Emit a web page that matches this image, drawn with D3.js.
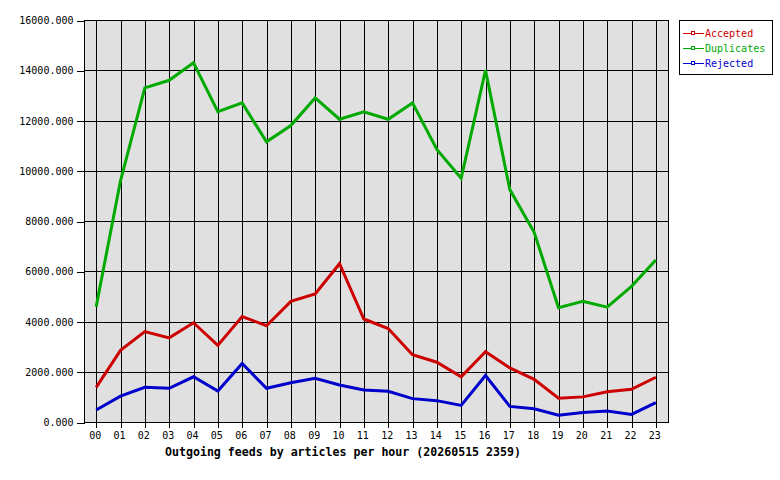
<!DOCTYPE html>
<html>
<head>
<meta charset="utf-8">
<script src="https://cdn.jsdelivr.net/npm/d3@7"></script>
<style>
  body { margin: 0; background: #fff; }
  text { font-family: "DejaVu Sans Mono", monospace; }
</style>
</head>
<body>
<div id="chart"></div>
<script>
// hours of the day
const hours = ["00","01","02","03","04","05","06","07","08","09","10","11",
               "12","13","14","15","16","17","18","19","20","21","22","23"];

const accepted   = [1380,2850,3600,3350,3950,3050,4200,3830,4800,5100,6300,4100,
                    3720,2680,2380,1800,2800,2150,1700,950,1000,1200,1300,1780];
const duplicates = [4590,9600,13300,13600,14300,12350,12700,11150,11800,12900,12050,12350,
                    12050,12700,10850,9700,14000,9250,7550,4550,4800,4570,5400,6450];
const rejected   = [480,1030,1380,1340,1800,1230,2330,1340,1560,1740,1470,1270,
                    1220,930,850,660,1850,620,530,270,380,440,300,770];

const yTicks = [0,2000,4000,6000,8000,10000,12000,14000,16000];
const title = "Outgoing feeds by articles per hour (20260515 2359)";

const series = [
    {name: "Accepted",   values: accepted,   color: "#cc0000"},
    {name: "Duplicates", values: duplicates, color: "#00aa00"},
    {name: "Rejected",   values: rejected,   color: "#0000cc"}
];

const width = 780, height = 480;
const plot = {left: 84, right: 668, top: 20, bottom: 422};

const svg = d3.select("#chart").append("svg")
    .attr("width", width)
    .attr("height", height);

const x = d3.scalePoint()
    .domain(hours)
    .range([plot.left, plot.right])
    .padding(0.5);

const y = d3.scaleLinear()
    .domain([0, 16000])
    .range([plot.bottom, plot.top]);

// plot background
svg.append("rect")
    .attr("x", plot.left + 0.5)
    .attr("y", plot.top + 0.5)
    .attr("width", plot.right - plot.left)
    .attr("height", plot.bottom - plot.top)
    .attr("fill", "#e0e0e0");

// grid
svg.append("g")
    .selectAll("line.hgrid")
    .data(yTicks)
    .enter().append("line")
    .attr("class", "hgrid")
    .attr("x1", plot.left).attr("x2", plot.right)
    .attr("y1", d => Math.round(y(d)) + 0.5)
    .attr("y2", d => Math.round(y(d)) + 0.5)
    .attr("stroke", "#000")
    .attr("shape-rendering", "crispEdges");

svg.append("g")
    .selectAll("line.vgrid")
    .data(hours)
    .enter().append("line")
    .attr("class", "vgrid")
    .attr("x1", d => Math.round(x(d)) + 0.5)
    .attr("x2", d => Math.round(x(d)) + 0.5)
    .attr("y1", plot.top).attr("y2", plot.bottom + 6)
    .attr("stroke", "#000")
    .attr("shape-rendering", "crispEdges");

// border
svg.append("rect")
    .attr("x", plot.left + 0.5)
    .attr("y", plot.top + 0.5)
    .attr("width", plot.right - plot.left)
    .attr("height", plot.bottom - plot.top)
    .attr("fill", "none")
    .attr("stroke", "#000")
    .attr("shape-rendering", "crispEdges");

// y axis
const yAxis = svg.append("g")
    .attr("transform", `translate(${plot.left + 0.5},0.5)`)
    .call(d3.axisLeft(y).tickValues(yTicks).tickSize(8).tickPadding(3)
        .tickFormat(d => d3.format(".3f")(d)));
yAxis.select(".domain").remove();
yAxis.selectAll("line").attr("shape-rendering", "crispEdges");
yAxis.selectAll("text")
    .attr("font-size", "10px")
    .attr("font-family", "DejaVu Sans Mono")
    .attr("fill", "#000");

// x labels
svg.append("g")
    .selectAll("text.xlab")
    .data(hours)
    .enter().append("text")
    .attr("class", "xlab")
    .attr("x", d => x(d) - 1)
    .attr("y", 439)
    .attr("text-anchor", "middle")
    .attr("font-size", "10px")
    .attr("fill", "#000")
    .text(d => d);

// title
svg.append("text")
    .attr("x", 343)
    .attr("y", 456)
    .attr("text-anchor", "middle")
    .attr("font-size", "11.6px")
    .attr("font-weight", "bold")
    .attr("fill", "#000")
    .text(title);

// lines
const line = d3.line()
    .x((d, i) => x(hours[i]))
    .y(d => y(d));

svg.append("g")
    .selectAll("path.series")
    .data(series)
    .enter().append("path")
    .attr("class", "series")
    .attr("d", d => line(d.values))
    .attr("fill", "none")
    .attr("stroke", d => d.color)
    .attr("stroke-width", 3)
    .attr("stroke-linejoin", "miter");

// legend
const legend = svg.append("g");
legend.append("rect")
    .attr("x", 679.5).attr("y", 20.5)
    .attr("width", 93).attr("height", 54)
    .attr("fill", "#fff")
    .attr("stroke", "#000")
    .attr("shape-rendering", "crispEdges");

const item = legend.selectAll("g.item")
    .data(series)
    .enter().append("g")
    .attr("class", "item")
    .attr("transform", (d, i) => `translate(683, ${33 + i * 15})`);

item.append("line")
    .attr("x1", 0).attr("x2", 21)
    .attr("y1", 0.5).attr("y2", 0.5)
    .attr("stroke", d => d.color)
    .attr("shape-rendering", "crispEdges");
item.append("rect")
    .attr("x", 8.5).attr("y", -1.5)
    .attr("width", 3).attr("height", 3)
    .attr("fill", "#fff")
    .attr("stroke", d => d.color)
    .attr("shape-rendering", "crispEdges");
item.append("text")
    .attr("x", 22)
    .attr("y", 4)
    .attr("font-size", "10px")
    .attr("fill", d => d.color)
    .text(d => d.name);
</script>
</body>
</html>
